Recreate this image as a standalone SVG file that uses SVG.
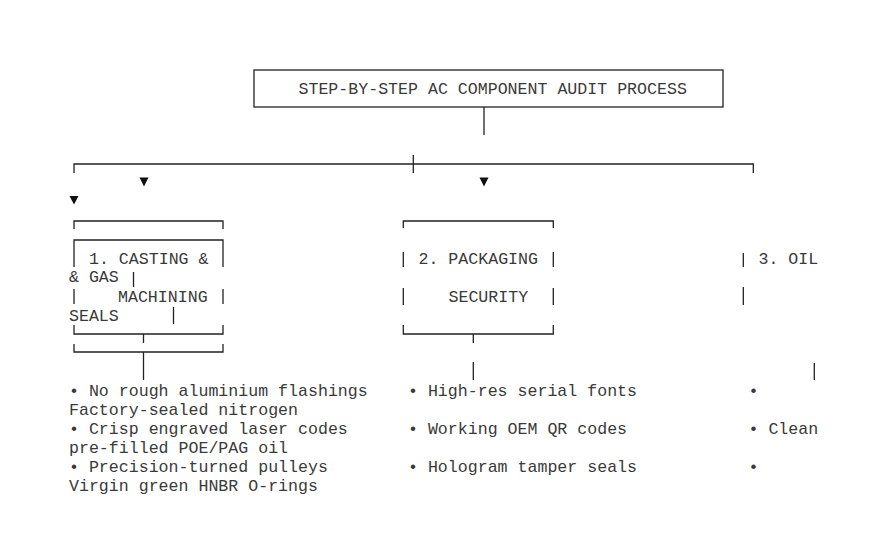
<svg xmlns="http://www.w3.org/2000/svg" width="889" height="539" viewBox="0 0 889 539">
<style>
  text { font-family: "Liberation Mono", "Courier New", monospace; font-size: 16.6px; fill: #3a3a3a; }
  .ln { fill: none; stroke: #222; stroke-width: 1.3; }
  .ah { fill: #111; }
</style>
<rect width="889" height="539" fill="#fff"/>
<g id="title">
  <rect class="ln" x="254" y="70" width="469" height="37"/>
  <text x="298.5" y="94">STEP-BY-STEP AC COMPONENT AUDIT PROCESS</text>
</g>
<g id="connectors">
  <path class="ln" d="M484,107 V135"/>
  <path class="ln" d="M74,173 V164 H753.3 V173"/>
  <path class="ln" d="M413.3,155 V173"/>
  <polygon class="ah" points="139.5,177.5 148.5,177.5 144,186.5"/>
  <polygon class="ah" points="479.5,177.5 488.5,177.5 484,186.5"/>
  <polygon class="ah" points="69.5,196 78.5,196 74,204.5"/>
  <path class="ln" d="M143.5,334 V343"/>
  <path class="ln" d="M143.5,352 V380"/>
  <path class="ln" d="M473.3,334 V343"/>
  <path class="ln" d="M473.3,362 V380"/>
  <path class="ln" d="M814.3,363 V380"/>
</g>
<g id="step1">
  <path class="ln" d="M74,229 V221 H223 V229"/>
  <path class="ln" d="M74,267 V240 H223 V267"/>
  <text x="89" y="263.5">1. CASTING &amp;</text>
  <text x="69" y="282.3">&amp; GAS</text>
  <path class="ln" d="M133.5,272 V287"/>
  <path class="ln" d="M74,289 V304 M223,289 V304"/>
  <text x="118" y="301.5">MACHINING</text>
  <text x="69" y="320.5">SEALS</text>
  <path class="ln" d="M173.5,307 V324"/>
  <path class="ln" d="M74,325 V334 H223 V325"/>
  <path class="ln" d="M74,344 V352 H223 V344"/>
  <g id="step1-items">
    <text x="69" y="396">• No rough aluminium flashings</text>
    <text x="69" y="415">Factory-sealed nitrogen</text>
    <text x="69" y="434">• Crisp engraved laser codes</text>
    <text x="69" y="453">pre-filled POE/PAG oil</text>
    <text x="69" y="472">• Precision-turned pulleys</text>
    <text x="69" y="491">Virgin green HNBR O-rings</text>
  </g>
</g>
<g id="step2">
  <path class="ln" d="M403.3,228 V221 H553.3 V228"/>
  <path class="ln" d="M403.3,252 V267 M553.3,252 V267"/>
  <text x="418.5" y="263.5">2. PACKAGING</text>
  <path class="ln" d="M403.3,288 V305 M553.3,288 V305"/>
  <text x="448.5" y="301.5">SECURITY</text>
  <path class="ln" d="M403.3,325 V334 H553.3 V325"/>
  <g id="step2-items">
    <text x="408" y="396">• High-res serial fonts</text>
    <text x="408" y="434">• Working OEM QR codes</text>
    <text x="408" y="472">• Hologram tamper seals</text>
  </g>
</g>
<g id="step3">
  <path class="ln" d="M743.3,253 V267 M743.3,287 V305"/>
  <text x="758.5" y="263.5">3. OIL</text>
  <g id="step3-items">
    <text x="748.5" y="396">•</text>
    <text x="748.5" y="434">• Clean</text>
    <text x="748.5" y="472">•</text>
  </g>
</g>
</svg>
